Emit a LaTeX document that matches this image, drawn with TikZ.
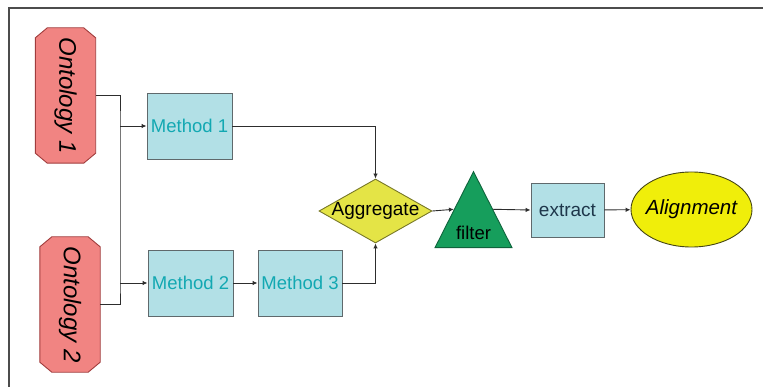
\documentclass[tikz,border=0pt]{standalone}
\usepackage{fontspec}
\usepackage{graphicx}
\setmainfont{Liberation Sans}
\usetikzlibrary{arrows.meta,shapes.geometric}

\definecolor{ontofill}{RGB}{241,132,130}
\definecolor{ontoline}{RGB}{160,60,60}
\definecolor{boxfill}{RGB}{178,224,230}
\definecolor{boxline}{RGB}{95,105,108}
\definecolor{methtext}{RGB}{18,168,178}
\definecolor{exttext}{RGB}{30,55,75}
\definecolor{aggfill}{RGB}{228,228,70}
\definecolor{aggline}{RGB}{120,120,40}
\definecolor{filtfill}{RGB}{22,158,92}
\definecolor{filtline}{RGB}{15,100,60}
\definecolor{alfill}{RGB}{240,238,10}
\definecolor{alline}{RGB}{70,70,20}
\definecolor{wire}{RGB}{45,45,45}

\pgfdeclarelayer{background}
\pgfsetlayers{background,main}

% octagonal outline behind a named rectangular node
\newcommand{\octoshape}[1]{%
  \begin{pgfonlayer}{background}
    \path[fill=ontofill, draw=ontoline, line width=0.9pt]
      ([xshift=12pt]#1.north west) -- ([xshift=-12pt]#1.north east)
      -- ([yshift=-10pt]#1.north east) -- ([yshift=10pt]#1.south east)
      -- ([xshift=-12pt]#1.south east) -- ([xshift=12pt]#1.south west)
      -- ([yshift=10pt]#1.south west) -- ([yshift=-10pt]#1.north west)
      -- cycle;
  \end{pgfonlayer}}

\tikzset{
  onto/.style={rectangle, minimum width=60pt, minimum height=135pt, inner sep=0pt,
    font=\fontsize{24}{28}\selectfont\itshape},
  method/.style={rectangle, fill=boxfill, draw=boxline, line width=0.9pt,
    minimum width=85pt, minimum height=66pt, inner sep=0pt,
    text=methtext, font=\fontsize{18.5}{22}\selectfont},
  aggr/.style={diamond, fill=aggfill, draw=aggline, line width=0.9pt,
    minimum width=113pt, minimum height=64pt, inner sep=0pt},
  filt/.style={isosceles triangle, shape border rotate=90,
    isosceles triangle stretches, minimum width=77pt, minimum height=76pt,
    inner sep=0pt, fill=filtfill, draw=filtline, line width=0.9pt},
  goal/.style={ellipse, fill=alfill, draw=alline, line width=0.9pt,
    minimum width=121pt, minimum height=75pt, inner sep=0pt},
  wireline/.style={draw=wire, line width=0.9pt},
  arr/.style={wireline, -{Latex[length=5pt,width=4.5pt]}},
}

\begin{document}
\begin{tikzpicture}[x=1pt,y=-1pt]
  \useasboundingbox (0,0) rectangle (763,387);

  % frame edges
  \draw[line width=1.6pt, draw=black!70] (9,387) -- (9,8) -- (763,8);

  % inputs
  \node[onto] (o1) at (65.5,95.5) {\rotatebox{-90}{Ontology 1}};
  \node[onto] (o2) at (70,304.5) {\rotatebox{-90}{Ontology 2}};
  \octoshape{o1}
  \octoshape{o2}

  % matchers
  \node[method] (m1) at (189.5,126) {Method 1};
  \node[method] (m2) at (190.5,283) {Method 2};
  \node[method, minimum width=84pt] (m3) at (300,283) {Method 3};

  % combination and output
  \node[aggr, label={[font=\fontsize{19}{22}\selectfont]center:Aggregate}] (agg) at (375.5,211) {};
  \node[filt, label={[yshift=-9pt, font=\fontsize{18.5}{22}\selectfont]center:filter}] (flt) at (473.5,224) {};
  \node[method, minimum width=73pt, minimum height=54pt, text=exttext,
        font=\fontsize{19}{22}\selectfont] (ext) at (567.5,210) {extract};
  \node[goal, label={[font=\fontsize{20.5}{24}\selectfont\itshape]center:Alignment}] (al) at (691.5,209.5) {};

  % input bus
  \coordinate (b1) at (120,126);
  \coordinate (b2) at (120,283);
  \draw[wireline] (o1.east) -| (b1) -- (b2) |- (o2.east);
  \draw[arr] (b1) -- (m1);
  \draw[arr] (b2) -- (m2);
  \draw[arr] (m2) -- (m3);

  % into the aggregator
  \draw[arr] (m1.east) -| (agg.north);
  \draw[arr] (m3.east) -| (agg.south);

  % output chain
  \draw[arr] (agg.east) -- (flt.left side);
  \draw[arr] (flt.right side) -- (ext.west);
  \draw[arr] (ext) -- (al);
\end{tikzpicture}
\end{document}
